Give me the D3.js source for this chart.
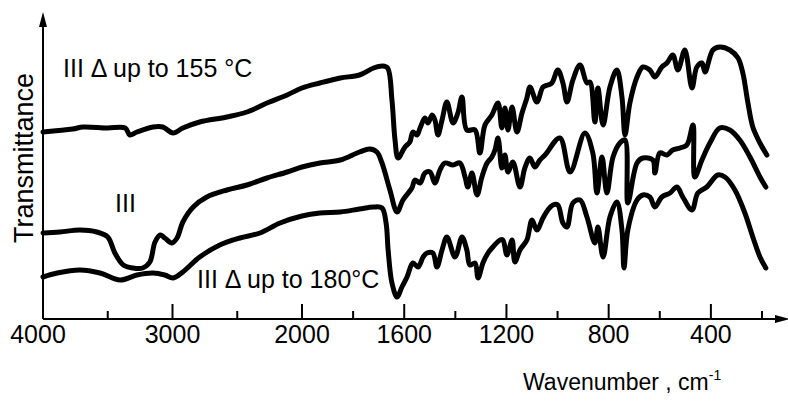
<!DOCTYPE html>
<html lang="en">
<head>
  <meta charset="UTF-8">
  <title>IR spectra of III</title>
  <script src="https://d3js.org/d3.v7.min.js"></script>
  <style>
    body { margin: 0; background: #fff; }
    svg { display: block; }
    text { font-family: 'Liberation Sans', Arial, sans-serif; fill: #000; }
  </style>
</head>
<body>
  <div id="chart"></div>
  <script>
    // wavenumber (cm-1) and transmittance (arbitrary units, curves offset)
    const heated155Wn = [4000, 3770, 3690, 3505, 3365, 3330, 3275, 3150, 3075, 2995, 2920, 2790, 2580, 2425, 2270, 2115, 2000,
      1930, 1850, 1775, 1720, 1685, 1665, 1648, 1636, 1624, 1597, 1578, 1566, 1550, 1538, 1519, 1507, 1491, 1480, 1468, 1452,
      1433, 1409, 1390, 1374, 1355, 1323, 1304, 1284, 1257, 1233, 1218, 1206, 1194, 1178, 1159, 1139, 1120, 1108, 1081, 1057,
      1038, 1022, 999, 979, 963, 940, 912, 885, 873, 854, 842, 822, 795, 768, 748, 736, 717, 689, 666, 639, 619, 592, 572,
      549, 529, 502, 474, 455, 435, 423, 392, 365, 326, 294, 275, 255, 236, 208, 181];
    const heated155T = [186, 189, 191, 190, 190, 183, 186, 191, 191, 185, 190, 196, 201, 206, 215, 223, 230,
      235, 240, 243, 250, 252, 250, 218, 178, 160, 171, 176, 186, 183, 190, 200, 195, 203, 198, 183, 198,
      216, 195, 205, 221, 188, 188, 165, 193, 203, 215, 190, 210, 188, 211, 186, 205, 220, 231, 216, 231,
      233, 235, 248, 235, 216, 238, 253, 235, 236, 196, 230, 193, 231, 248, 221, 183, 215, 241, 251, 248, 241, 251, 255,
      263, 248, 268, 230, 251, 255, 246, 268, 271, 268, 260, 245, 215, 191, 175, 163];

    const pureWn = [4000, 3870, 3715, 3585, 3500, 3445, 3380, 3305, 3230, 3175, 3135, 3095, 3060, 3005, 2965, 2920, 2840, 2735,
      2580, 2425, 2270, 2115, 2000, 1930, 1850, 1775, 1735, 1707, 1687, 1656, 1628, 1605, 1570, 1558, 1538, 1519, 1499, 1480,
      1460, 1441, 1409, 1382, 1362, 1351, 1335, 1315, 1296, 1276, 1257, 1245, 1233, 1218, 1206, 1194, 1175, 1147, 1128, 1108,
      1089, 1069, 1049, 991, 951, 893, 862, 846, 826, 807, 783, 756, 736, 725, 689, 666, 627, 619, 600, 572, 549, 521, 494,
      470, 463, 435, 404, 365, 326, 287, 247, 208, 185];
    const pureT = [85, 86, 88, 86, 81, 65, 53, 50, 50, 56, 76, 83, 80, 75, 80, 96, 111, 121,
      128, 133, 140, 146, 151, 155, 158, 166, 169, 166, 155, 128, 106, 118, 130, 138, 135, 145, 146, 135,
      148, 155, 153, 155, 141, 131, 145, 123, 141, 155, 161, 168, 180, 150, 163, 146, 156, 131, 150, 160,
      151, 158, 163, 180, 146, 185, 165, 125, 161, 125, 161, 175, 178, 115, 155, 160, 158, 145, 165, 163, 168, 170, 173,
      193, 141, 158, 175, 190, 188, 178, 161, 141, 131];

    const heated180Wn = [4000, 3890, 3715, 3560, 3405, 3275, 3150, 3060, 2995, 2920, 2790, 2635, 2480, 2325, 2170, 2000,
      1930, 1850, 1775, 1720, 1687, 1671, 1663, 1648, 1628, 1609, 1589, 1566, 1546, 1526, 1511, 1488, 1472, 1452, 1433,
      1401, 1374, 1355, 1343, 1323, 1311, 1292, 1272, 1253, 1225, 1214, 1198, 1178, 1167, 1147, 1120, 1100, 1081, 1057,
      1038, 1018, 999, 979, 963, 940, 912, 885, 854, 842, 822, 795, 768, 748, 740, 725, 689, 666, 639, 619, 592, 560, 533,
      510, 474, 451, 416, 373, 345, 306, 267, 236, 208, 185];
    const heated180T = [41, 45, 48, 45, 38, 43, 45, 43, 40, 46, 61, 73, 80, 85, 95, 102,
      105, 106, 109, 111, 110, 95, 68, 35, 21, 31, 41, 55, 51, 61, 65, 65, 51, 68, 81,
      61, 81, 68, 53, 55, 40, 55, 65, 71, 78, 78, 63, 78, 56, 68, 78, 98, 88, 100,
      108, 113, 113, 95, 91, 115, 118, 101, 75, 91, 61, 101, 116, 88, 50, 88, 118, 123, 121, 111, 121, 125, 131,
      121, 108, 125, 131, 143, 141, 128, 105, 81, 61, 50];

    const majorTicks = [4000, 3000, 2000, 1600, 1200, 800, 400];
    const minorTicks = [3500, 2500, 1800, 1400, 1000, 600, 200];
    const tickLabels = ["4000", "3000", "2000", "1600", "1200", "800", "400"];

    const curves = [
      { wn: heated155Wn, t: heated155T },
      { wn: pureWn, t: pureT },
      { wn: heated180Wn, t: heated180T }
    ];

    const width = 788, height = 403;
    const axisY = 319, axisX = 43;

    const svg = d3.select("#chart").append("svg")
      .attr("width", width)
      .attr("height", height);

    // the abscissa is split: 4000-2000 at half the scale of 2000-200
    const x = d3.scaleLinear().domain([4000, 2000, 200]).range([43, 302, 762]);
    const y = d3.scaleLinear().domain([0, 305]).range([318, 13]);

    const line = d3.line()
      .x(d => x(d[0]))
      .y(d => y(d[1]))
      .curve(d3.curveCatmullRom.alpha(0.5));

    curves.forEach(c => {
      const pts = c.wn.map((w, i) => [w, c.t[i]]);
      svg.append("path")
        .attr("d", line(pts))
        .attr("fill", "none")
        .attr("stroke", "#000")
        .attr("stroke-width", 5)
        .attr("stroke-linejoin", "round")
        .attr("stroke-linecap", "round");
    });

    // axes
    svg.append("line")
      .attr("x1", axisX).attr("y1", axisY)
      .attr("x2", axisX).attr("y2", 20)
      .attr("stroke", "#000").attr("stroke-width", 2);
    svg.append("path")
      .attr("d", `M${axisX},12 L${axisX - 4},27 L${axisX + 4},27 Z`)
      .attr("fill", "#000");

    svg.append("line")
      .attr("x1", axisX).attr("y1", axisY)
      .attr("x2", 780).attr("y2", axisY)
      .attr("stroke", "#000").attr("stroke-width", 2);
    svg.append("path")
      .attr("d", `M790,${axisY} L775,${axisY - 4} L775,${axisY + 4} Z`)
      .attr("fill", "#000");

    svg.selectAll(".major")
      .data(majorTicks.slice(1))
      .join("line")
      .attr("x1", d => x(d)).attr("x2", d => x(d))
      .attr("y1", axisY).attr("y2", axisY - 15)
      .attr("stroke", "#000").attr("stroke-width", 2);

    svg.selectAll(".minor")
      .data(minorTicks)
      .join("line")
      .attr("x1", d => x(d)).attr("x2", d => x(d))
      .attr("y1", axisY).attr("y2", axisY - 8)
      .attr("stroke", "#000").attr("stroke-width", 2);

    svg.selectAll(".tlabel")
      .data(majorTicks)
      .join("text")
      .attr("x", (d, i) => i === 0 ? x(d) - 5 : x(d))
      .attr("y", 343)
      .attr("text-anchor", "middle")
      .attr("font-size", 25)
      .text((d, i) => tickLabels[i]);

    const xl = svg.append("text")
      .attr("x", 523).attr("y", 390)
      .attr("font-size", 23);
    xl.append("tspan").text("Wavenumber , cm");
    xl.append("tspan").attr("font-size", 14).attr("dy", -10).text("-1");

    svg.append("text")
      .attr("transform", "translate(33,158) rotate(-90)")
      .attr("text-anchor", "middle")
      .attr("font-size", 27)
      .text("Transmittance");

    // curve captions
    svg.append("text").attr("x", 63).attr("y", 77).attr("font-size", 25).text("III Δ up to 155 °C");
    svg.append("text").attr("x", 115).attr("y", 212).attr("font-size", 25).text("III");
    svg.append("text").attr("x", 197).attr("y", 288).attr("font-size", 25).text("III Δ up to 180°C");
  </script>
</body>
</html>
